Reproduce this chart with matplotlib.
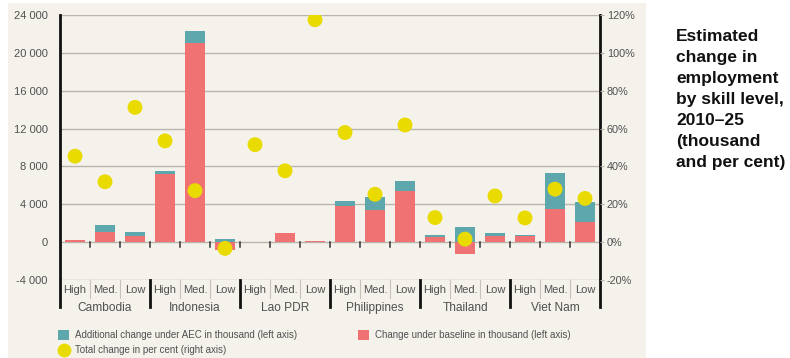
import matplotlib
matplotlib.use("Agg")
import matplotlib.pyplot as plt
from matplotlib.patches import Rectangle
from matplotlib.lines import Line2D
import numpy as np

plt.rcParams['font.family'] = ['Liberation Sans', 'DejaVu Sans']

countries = ["Cambodia", "Indonesia", "Lao PDR", "Philippines", "Thailand", "Viet Nam"]
skills = ["High", "Med.", "Low"]

# Change under baseline (thousand), ordered country by country, High/Med./Low
baseline = [250, 1100, 700,
            7250, 21000, -800,
            50, 950, 120,
            3800, 3350, 5400,
            500, -1250, 600,
            600, 3500, 2150]
# Additional change under AEC (thousand)
aec = [0, 700, 350,
       250, 1300, 300,
       10, 20, 20,
       500, 1450, 1100,
       250, 1650, 350,
       200, 3800, 2100]
# Total change in per cent
total_pct = [45.4, 31.9, 71.2,
             53.5, 27.2, -3.3,
             51.5, 37.7, 117.5,
             57.9, 25.3, 61.9,
             13.0, 1.6, 24.4,
             12.8, 28.0, 23.1]

left_ticks = [-4000, 0, 4000, 8000, 12000, 16000, 20000, 24000]
left_labels = ["-4 000", "0", "4 000", "8 000", "12 000", "16 000", "20 000", "24 000"]
right_ticks = [-20, 0, 20, 40, 60, 80, 100, 120]
right_labels = ["-20%", "0%", "20%", "40%", "60%", "80%", "100%", "120%"]

RED = "#F07272"
TEAL = "#5EA8AD"
YELLOW = "#E9DB00"
PANEL = "#F5F2EC"
GRID = "#B9B4AC"
TXT = "#505050"

W, H = 790, 358
fig = plt.figure(figsize=(W / 100, H / 100), dpi=100)
fig.patch.set_facecolor("white")

# beige panel behind the chart
fig.patches.append(Rectangle((8 / W, 0), (646 - 8) / W, (358 - 3) / H,
                             transform=fig.transFigure, facecolor=PANEL,
                             edgecolor="none", zorder=-5))

ax = fig.add_axes([60 / W, 1 - 280 / H, 540 / W, 265 / H])
ax.set_facecolor("none")
n = len(baseline)
x = np.arange(n)
ax.set_xlim(-0.5, n - 0.5)
ax.set_ylim(-4000, 24000)

base = np.array(baseline, dtype=float)
add = np.array(aec, dtype=float)
bw = 0.68
ax.bar(x, base, width=bw, color=RED, zorder=3)
ax.bar(x, add, width=bw, bottom=np.maximum(base, 0), color=TEAL, zorder=3)

ax.set_yticks(left_ticks)
ax.set_yticklabels(left_labels, fontsize=8, color=TXT)
ax.tick_params(axis="y", length=0, pad=9)
ax.set_xticks([])
for t in left_ticks:
    ax.axhline(t, color=GRID, lw=1.0, zorder=1)

for s in ["top", "bottom", "right", "left"]:
    ax.spines[s].set_visible(False)

ax2 = ax.twinx()
ax2.set_ylim(-20, 120)
ax2.set_yticks(right_ticks)
ax2.set_yticklabels(right_labels, fontsize=7.8, color=TXT)
ax2.tick_params(axis="y", length=3, color=GRID, pad=2)
for s in ["top", "bottom", "left", "right"]:
    ax2.spines[s].set_visible(False)
ax2.scatter(x, total_pct, s=115, color=YELLOW, edgecolor="none", zorder=5)

# heavy vertical axis lines extending into the label area
trans = ax.get_xaxis_transform()
y_low = -(307 - 280) / 265
for xv in (-0.5, n - 0.5):
    ax.add_line(Line2D([xv, xv], [y_low, 1.0], transform=trans, color="#111111",
                       lw=2.0, clip_on=False, zorder=6))

# small ticks on the zero line at every bar boundary
for b in np.arange(0.5, n - 0.5, 1.0):
    ax.plot([b, b], [0, -520], color="#333333", lw=1.1, zorder=4, clip_on=False)

# category labels: skill level and country
for i in range(n):
    ax.text(i, -(290 - 280) / 265, skills[i % 3], transform=trans, ha="center",
            va="center", fontsize=8, color=TXT)
for b in np.arange(0.5, n - 0.5, 1.0):
    k = int(b + 0.5)
    if k % 3 == 0:
        ax.add_line(Line2D([b, b], [0, y_low], transform=trans, color="#111111",
                           lw=2.0, clip_on=False))
    else:
        ax.add_line(Line2D([b, b], [0, -(298 - 280) / 265], transform=trans,
                           color="#C8C3BA", lw=0.8, clip_on=False))
for g, name in enumerate(countries):
    ax.text(3 * g + 1, -(308 - 280) / 265, name, transform=trans, ha="center",
            va="center", fontsize=8.6, color=TXT)

# legend drawn in figure pixels
def fx(px):
    return px / W

def fy(py):
    return 1 - py / H

fig.patches.append(Rectangle((fx(58), fy(340)), 11 / W, 10 / H, transform=fig.transFigure,
                             facecolor=TEAL, edgecolor="none"))
fig.text(fx(75), fy(335), "Additional change under AEC in thousand (left axis)",
         fontsize=7.0, color=TXT, va="center", ha="left")
fig.patches.append(Rectangle((fx(358), fy(340)), 11 / W, 10 / H, transform=fig.transFigure,
                             facecolor=RED, edgecolor="none"))
fig.text(fx(375), fy(335), "Change under baseline in thousand (left axis)",
         fontsize=7.0, color=TXT, va="center", ha="left")
fig.add_artist(Line2D([fx(63.5)], [fy(350)], marker="o", markersize=10,
                      color=YELLOW, markeredgecolor="none", transform=fig.transFigure))
fig.text(fx(75), fy(350), "Total change in per cent (right axis)",
         fontsize=7.0, color=TXT, va="center", ha="left")

fig.text(fx(676), fy(29), "Estimated\nchange in\nemployment\nby skill level,\n2010\u201325\n(thousand\nand per cent)",
         fontsize=12.5, fontweight="bold", color="#111111", va="top", ha="left",
         linespacing=1.5)

fig.savefig("out.png", dpi=100, facecolor="white")
